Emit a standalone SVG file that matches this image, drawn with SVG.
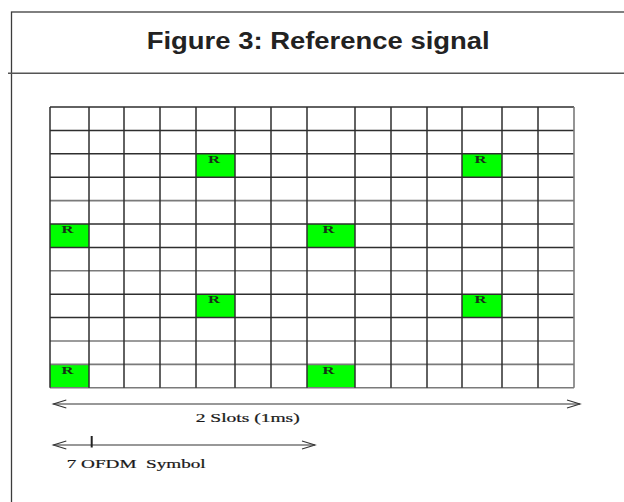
<svg xmlns="http://www.w3.org/2000/svg" width="624" height="502" viewBox="0 0 624 502">
  <style>
    .frame { fill: none; stroke: #3c3c3c; stroke-width: 1.3; }
    .sep { stroke: #555; stroke-width: 1.6; }
    .title { font-family: "Liberation Sans", Arial, sans-serif; font-weight: bold; font-size: 23px; fill: #222; }
    .g { stroke: #2e2e2e; stroke-width: 1.5; }
    .gl { stroke: #7a7a7a; stroke-width: 1.6; }
    .ref { fill: #00ff00; }
    .rl { font-family: "Liberation Serif", "Times New Roman", serif; font-weight: bold; font-size: 10px; fill: #163016; }
    .dim { stroke: #333; stroke-width: 1.2; fill: none; }
    .lbl { font-family: "Liberation Serif", "Times New Roman", serif; font-size: 12px; fill: #1a1a1a; stroke: #1a1a1a; stroke-width: 0.2; }
  </style>
  <defs>
    <marker id="chev" markerUnits="userSpaceOnUse" markerWidth="16" markerHeight="12" viewBox="-14 -6 16 12" refX="0" refY="0" orient="auto-start-reverse">
      <path d="M-13,-4 L0,0 L-13,4" fill="none" stroke="#333" stroke-width="1.1"/>
    </marker>
  </defs>

  <rect width="624" height="502" fill="#fff"/>

  <!-- outer frame and title band -->
  <g id="frame">
    <rect class="frame" x="11.5" y="12" width="630" height="510"/>
    <line class="sep" x1="8" y1="73.3" x2="624" y2="73.3"/>
    <text class="title" x="146.7" y="49.3" textLength="343" lengthAdjust="spacingAndGlyphs">Figure 3: Reference signal</text>
  </g>

  <!-- resource grid: 14 symbols x 12 subcarriers -->
  <g id="reference-cells">
    <rect class="ref" x="196" y="153.8" width="39" height="23.4"/>
    <rect class="ref" x="462" y="153.8" width="40" height="23.4"/>
    <rect class="ref" x="50" y="224" width="39" height="23.4"/>
    <rect class="ref" x="307" y="224" width="48" height="23.4"/>
    <rect class="ref" x="196" y="294.2" width="39" height="23.4"/>
    <rect class="ref" x="462" y="294.2" width="40" height="23.4"/>
    <rect class="ref" x="50" y="364.4" width="39" height="23.4"/>
    <rect class="ref" x="307" y="364.4" width="48" height="23.4"/>
    <text class="rl" x="208" y="163" textLength="12" lengthAdjust="spacingAndGlyphs">R</text>
    <text class="rl" x="474.5" y="163" textLength="12" lengthAdjust="spacingAndGlyphs">R</text>
    <text class="rl" x="61.5" y="233.2" textLength="12" lengthAdjust="spacingAndGlyphs">R</text>
    <text class="rl" x="322.5" y="233.2" textLength="12" lengthAdjust="spacingAndGlyphs">R</text>
    <text class="rl" x="208" y="303.4" textLength="12" lengthAdjust="spacingAndGlyphs">R</text>
    <text class="rl" x="474.5" y="303.4" textLength="12" lengthAdjust="spacingAndGlyphs">R</text>
    <text class="rl" x="61.5" y="373.6" textLength="12" lengthAdjust="spacingAndGlyphs">R</text>
    <text class="rl" x="322.5" y="373.6" textLength="12" lengthAdjust="spacingAndGlyphs">R</text>
  </g>

  <g id="grid">
    <!-- rows -->
    <line class="g" x1="50" y1="107" x2="574" y2="107"/>
    <line class="g" x1="50" y1="130.4" x2="574" y2="130.4"/>
    <line class="g" x1="50" y1="153.8" x2="574" y2="153.8"/>
    <line class="g" x1="50" y1="177.2" x2="574" y2="177.2"/>
    <line class="gl" x1="50" y1="200.6" x2="574" y2="200.6"/>
    <line class="g" x1="50" y1="224" x2="574" y2="224"/>
    <line class="g" x1="50" y1="247.4" x2="574" y2="247.4"/>
    <line class="gl" x1="50" y1="270.8" x2="574" y2="270.8"/>
    <line class="g" x1="50" y1="294.2" x2="574" y2="294.2"/>
    <line class="g" x1="50" y1="317.6" x2="574" y2="317.6"/>
    <line class="gl" x1="50" y1="341" x2="574" y2="341"/>
    <line class="gl" x1="50" y1="364.4" x2="574" y2="364.4"/>
    <line class="gl" x1="50" y1="387.8" x2="574" y2="387.8"/>
    <!-- columns -->
    <line class="g" x1="50" y1="107" x2="50" y2="387.8"/>
    <line class="g" x1="89" y1="107" x2="89" y2="387.8"/>
    <line class="g" x1="124" y1="107" x2="124" y2="387.8"/>
    <line class="g" x1="160" y1="107" x2="160" y2="387.8"/>
    <line class="g" x1="196" y1="107" x2="196" y2="387.8"/>
    <line class="g" x1="235" y1="107" x2="235" y2="387.8"/>
    <line class="g" x1="271" y1="107" x2="271" y2="387.8"/>
    <line class="g" x1="307" y1="107" x2="307" y2="387.8"/>
    <line class="g" x1="355" y1="107" x2="355" y2="387.8"/>
    <line class="g" x1="391" y1="107" x2="391" y2="387.8"/>
    <line class="g" x1="427" y1="107" x2="427" y2="387.8"/>
    <line class="g" x1="462" y1="107" x2="462" y2="387.8"/>
    <line class="g" x1="502" y1="107" x2="502" y2="387.8"/>
    <line class="g" x1="538" y1="107" x2="538" y2="387.8"/>
    <line class="gl" x1="574" y1="107" x2="574" y2="387.8"/>
  </g>

  <!-- dimension arrows -->
  <g id="connectors">
    <line class="dim" x1="53.3" y1="404" x2="580" y2="404" marker-start="url(#chev)" marker-end="url(#chev)"/>
    <line class="dim" x1="53.3" y1="445" x2="315" y2="445" marker-start="url(#chev)" marker-end="url(#chev)"/>
    <line x1="91.7" y1="436" x2="91.7" y2="447.5" stroke="#222" stroke-width="2"/>
  </g>

  <g id="labels">
    <text class="lbl" x="195.7" y="422.3" textLength="104" lengthAdjust="spacingAndGlyphs">2 Slots (1ms)</text>
    <text class="lbl" x="66.7" y="468" textLength="139" lengthAdjust="spacingAndGlyphs" xml:space="preserve">7 OFDM  Symbol</text>
  </g>
</svg>
